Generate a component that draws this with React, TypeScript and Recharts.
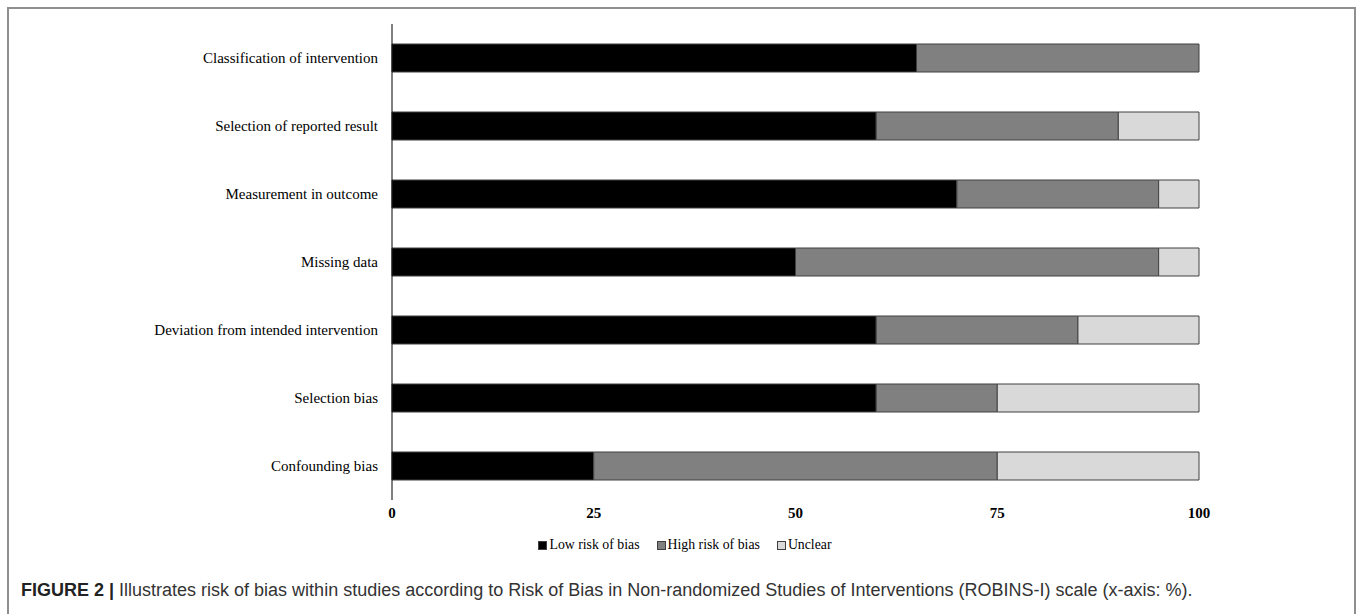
import React from "react";
import { BarChart, Bar, XAxis, YAxis } from "recharts";

const categories = [
  "Classification of intervention",
  "Selection of reported result",
  "Measurement in outcome",
  "Missing data",
  "Deviation from intended intervention",
  "Selection bias",
  "Confounding bias",
];
const lowRisk = [65, 60, 70, 50, 60, 60, 25];
const highRisk = [35, 30, 25, 45, 25, 15, 50];
const unclear = [0, 10, 5, 5, 15, 25, 25];
const xTicks = [0, 25, 50, 75, 100];

const seriesNames = ["Low risk of bias", "High risk of bias", "Unclear"];
const seriesColors = ["#000000", "#808080", "#d9d9d9"];

const data = categories.map((name, i) => ({
  name,
  low: lowRisk[i],
  high: highRisk[i],
  unclear: unclear[i],
}));

const serif = "'Liberation Serif', 'Times New Roman', serif";

export default function App() {
  return (
    <div style={{ position: "absolute", left: 0, top: 0, width: 1358, height: 614, background: "#fff", overflow: "hidden" }}>
      <div
        style={{
          position: "absolute",
          left: 7,
          top: 7,
          width: 1349,
          height: 640,
          border: "2px solid #8f8f8f",
          boxSizing: "border-box",
          zIndex: 2,
          pointerEvents: "none",
        }}
      />
      <div style={{ position: "absolute", left: 0, top: 0 }}>
        <BarChart
          width={1358}
          height={530}
          data={data}
          layout="vertical"
          margin={{ top: 24, right: 159, bottom: 0, left: 0 }}
          barCategoryGap={0}
        >
          <XAxis
            type="number"
            domain={[0, 100]}
            ticks={xTicks}
            axisLine={false}
            tickLine={false}
            tickMargin={1}
            height={30}
            tick={{ fontFamily: serif, fontSize: 15, fontWeight: "bold", fill: "#000" }}
          />
          <YAxis
            type="category"
            dataKey="name"
            width={392}
            tickLine={false}
            axisLine={{ stroke: "#000", strokeWidth: 1 }}
            tickMargin={8}
            interval={0}
            tick={{ fontFamily: serif, fontSize: 15, fill: "#000" }}
          />
          <Bar dataKey="low" stackId="a" fill={seriesColors[0]} stroke="#404040" strokeWidth={1} barSize={28} isAnimationActive={false} />
          <Bar dataKey="high" stackId="a" fill={seriesColors[1]} stroke="#404040" strokeWidth={1} barSize={28} isAnimationActive={false} />
          <Bar dataKey="unclear" stackId="a" fill={seriesColors[2]} stroke="#404040" strokeWidth={1} barSize={28} isAnimationActive={false} />
        </BarChart>
      </div>
      <div
        style={{
          position: "absolute",
          left: 11,
          width: 1348,
          top: 537,
          display: "flex",
          justifyContent: "center",
          fontFamily: serif,
          fontSize: 13.8,
          color: "#000",
          gap: 17,
          lineHeight: "16px",
        }}
      >
        {seriesNames.map((n, i) => (
          <span key={n} style={{ display: "inline-flex", alignItems: "center" }}>
            <span
              style={{
                display: "inline-block",
                width: 7,
                height: 7,
                background: seriesColors[i],
                border: "1px solid #404040",
                marginRight: 2,
              }}
            />
            {n}
          </span>
        ))}
      </div>
      <div
        style={{
          position: "absolute",
          left: 21,
          top: 579,
          fontFamily: "'Liberation Sans', Arial, sans-serif",
          fontSize: 18,
          color: "#333",
          whiteSpace: "nowrap",
          lineHeight: "22px",
        }}
      >
        <span style={{ fontWeight: "bold", color: "#222" }}>FIGURE 2 |</span> Illustrates risk of bias within studies according to Risk of Bias in Non-randomized Studies of Interventions (ROBINS-I) scale (x-axis: %).
      </div>
    </div>
  );
}
